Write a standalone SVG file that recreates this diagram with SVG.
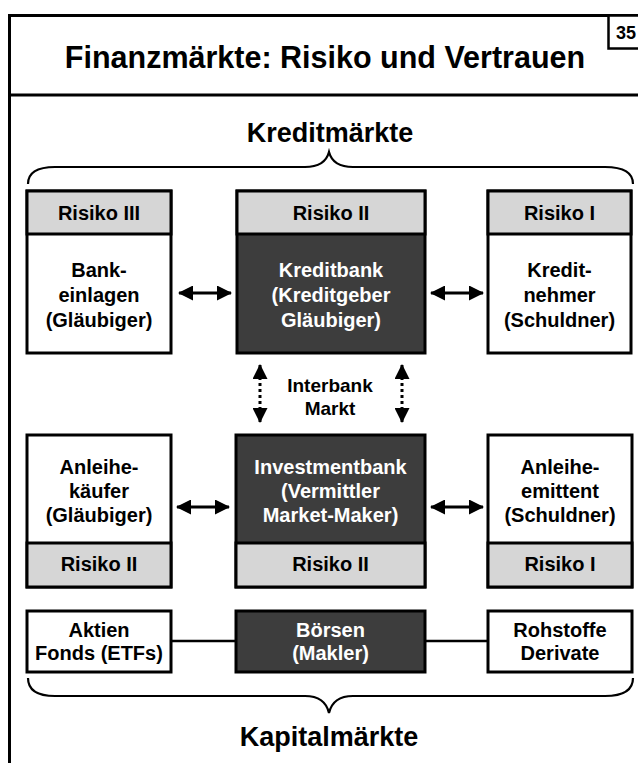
<svg xmlns="http://www.w3.org/2000/svg" width="638" height="763" viewBox="0 0 638 763">
<style>
text{font-family:"Liberation Sans",Arial,sans-serif;font-weight:bold;text-anchor:middle;}
.t{font-size:20px;fill:#000;}
.w{font-size:20px;fill:#fff;}
.box{fill:#fff;stroke:#000;stroke-width:3;}
.dark{fill:#3d3d3d;stroke:#000;stroke-width:3;}
.hdr{fill:#d6d6d6;stroke:#000;stroke-width:3;}
.brace{fill:none;stroke:#000;stroke-width:2.2;}
.arr{stroke:#000;stroke-width:3;fill:none;}
.dot{stroke:#000;stroke-width:3;fill:none;stroke-dasharray:3 3;}
.ln{stroke:#000;stroke-width:2.5;fill:none;}
</style>
<defs>
<marker id="ah" markerUnits="userSpaceOnUse" markerWidth="15" markerHeight="15" refX="14" refY="7.5" orient="auto-start-reverse">
<path d="M0,0 L15,7.5 L0,15 Z" fill="#000"/>
</marker>
</defs>
<rect x="0" y="0" width="638" height="763" fill="#fff"/>
<g id="frame">
<rect x="9.5" y="15.5" width="700" height="800" fill="none" stroke="#000" stroke-width="3"/>
<line x1="9.5" y1="95" x2="638" y2="95" stroke="#000" stroke-width="3"/>
<rect x="608.5" y="15.5" width="40" height="33" fill="#fff" stroke="#000" stroke-width="2.5"/>
<text x="616" y="39" style="font-size:18px;text-anchor:start">35</text>
<text x="325" y="68" style="font-size:30.5px">Finanzmärkte: Risiko und Vertrauen</text>
</g>
<g id="kreditmaerkte">
<text x="330" y="142" style="font-size:27px">Kreditmärkte</text>
<path class="brace" d="M28 184 Q28 167 55 167 L305 167 Q325 167 329 152 Q333 167 353 167 L605 167 Q633 167 633 184"/>
</g>
<g id="bankeinlagen">
<rect class="box" x="27" y="191" width="144" height="162"/>
<rect class="hdr" x="27" y="191" width="144" height="43"/>
<text class="t" x="99" y="220">Risiko III</text>
<text class="t" x="99" y="277">Bank-</text>
<text class="t" x="99" y="302">einlagen</text>
<text class="t" x="99" y="327">(Gläubiger)</text>
</g>
<g id="kreditbank">
<rect class="dark" x="237" y="191" width="188" height="162"/>
<rect class="hdr" x="237" y="191" width="188" height="43"/>
<text class="t" x="331" y="220">Risiko II</text>
<text class="w" x="331" y="277">Kreditbank</text>
<text class="w" x="331" y="302">(Kreditgeber</text>
<text class="w" x="331" y="327">Gläubiger)</text>
</g>
<g id="kreditnehmer">
<rect class="box" x="488" y="191" width="143" height="162"/>
<rect class="hdr" x="488" y="191" width="143" height="43"/>
<text class="t" x="559.5" y="220">Risiko I</text>
<text class="t" x="559.5" y="277">Kredit-</text>
<text class="t" x="559.5" y="302">nehmer</text>
<text class="t" x="559.5" y="327">(Schuldner)</text>
</g>
<g id="interbank">
<text class="t" x="330" y="392" style="font-size:19px">Interbank</text>
<text class="t" x="330" y="415" style="font-size:19px">Markt</text>
</g>
<g id="anleihekaeufer">
<rect class="box" x="27" y="435" width="144" height="152"/>
<rect class="hdr" x="27" y="543" width="144" height="44"/>
<text class="t" x="99" y="571">Risiko II</text>
<text class="t" x="99" y="474">Anleihe-</text>
<text class="t" x="99" y="498">käufer</text>
<text class="t" x="99" y="522">(Gläubiger)</text>
</g>
<g id="investmentbank">
<rect class="dark" x="236" y="435" width="189" height="152"/>
<rect class="hdr" x="236" y="543" width="189" height="44"/>
<text class="t" x="330.5" y="571">Risiko II</text>
<text class="w" x="330.5" y="474">Investmentbank</text>
<text class="w" x="330.5" y="498">(Vermittler</text>
<text class="w" x="330.5" y="522">Market-Maker)</text>
</g>
<g id="anleiheemittent">
<rect class="box" x="488" y="435" width="144" height="152"/>
<rect class="hdr" x="488" y="543" width="144" height="44"/>
<text class="t" x="560" y="571">Risiko I</text>
<text class="t" x="560" y="474">Anleihe-</text>
<text class="t" x="560" y="498">emittent</text>
<text class="t" x="560" y="522">(Schuldner)</text>
</g>
<g id="aktien">
<rect class="box" x="27" y="611" width="144" height="61"/>
<text class="t" x="99" y="637">Aktien</text>
<text class="t" x="99" y="660">Fonds (ETFs)</text>
</g>
<g id="boersen">
<rect class="dark" x="236" y="611" width="189" height="61"/>
<text class="w" x="330.5" y="637">Börsen</text>
<text class="w" x="330.5" y="660">(Makler)</text>
</g>
<g id="rohstoffe">
<rect class="box" x="488" y="611" width="144" height="61"/>
<text class="t" x="560" y="637">Rohstoffe</text>
<text class="t" x="560" y="660">Derivate</text>
</g>
<g id="kapitalmaerkte">
<path class="brace" d="M28 678 Q28 696 55 696 L305 696 Q325 696 329 713 Q333 696 353 696 L605 696 Q633 696 633 678"/>
<text x="329" y="746" style="font-size:27px">Kapitalmärkte</text>
</g>
<g id="connectors">
<line class="arr" x1="179" y1="293" x2="231" y2="293" marker-start="url(#ah)" marker-end="url(#ah)"/>
<line class="arr" x1="431" y1="293" x2="483" y2="293" marker-start="url(#ah)" marker-end="url(#ah)"/>
<line class="arr" x1="177" y1="507" x2="229" y2="507" marker-start="url(#ah)" marker-end="url(#ah)"/>
<line class="arr" x1="431" y1="507" x2="483" y2="507" marker-start="url(#ah)" marker-end="url(#ah)"/>
<line class="dot" x1="260" y1="365" x2="260" y2="422" marker-start="url(#ah)" marker-end="url(#ah)"/>
<line class="dot" x1="402" y1="365" x2="402" y2="422" marker-start="url(#ah)" marker-end="url(#ah)"/>
<line class="ln" x1="171" y1="641" x2="236" y2="641"/>
<line class="ln" x1="425" y1="641" x2="488" y2="641"/>
</g>
</svg>
